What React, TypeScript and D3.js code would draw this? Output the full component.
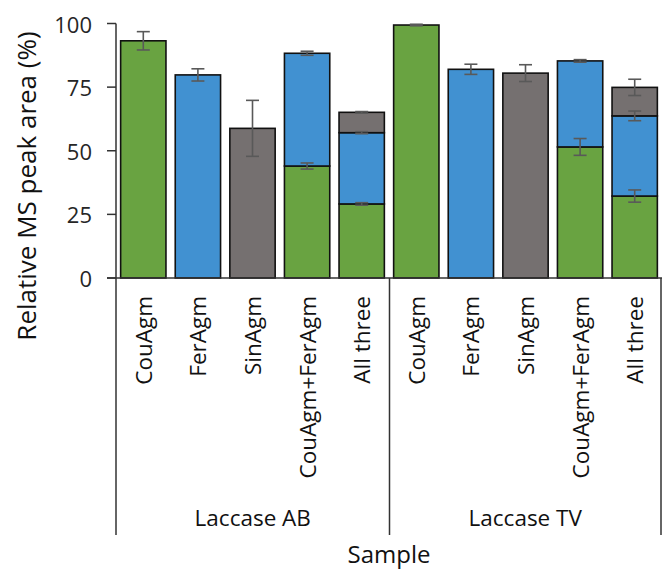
import React from "react";
import { scaleBand, scaleLinear, stack } from "d3";

// samples, two enzyme groups of five
const categories = ["CouAgm", "FerAgm", "SinAgm", "CouAgm+FerAgm", "All three", "CouAgm", "FerAgm", "SinAgm", "CouAgm+FerAgm", "All three"];
const groups = ["Laccase AB", "Laccase TV"];
const yTicks = [0, 25, 50, 75, 100];

// segment values (%) per sample
const couValues = [93.2, 0, 0, 44.0, 29.1, 99.4, 0, 0, 51.5, 32.2];
const ferValues = [0, 79.8, 0, 44.3, 28.0, 0, 82.0, 0, 33.8, 31.5];
const sinValues = [0, 0, 58.8, 0, 8.0, 0, 0, 80.5, 0, 11.2];

// error bar half-widths
const couErr = [3.6, 0, 0, 1.2, 0.5, 0.3, 0, 0, 3.3, 2.4];
const ferErr = [0, 2.4, 0, 0.8, 0.4, 0, 2.0, 0, 0.5, 1.9];
const sinErr = [0, 0, 11, 0, 0.3, 0, 0, 3.3, 0, 3.2];

const keys = ["cou", "fer", "sin"];
const colors = { cou: "#69a341", fer: "#4191d1", sin: "#757070" };
const errors = { cou: couErr, fer: ferErr, sin: sinErr };

const font = "'Open Sans', sans-serif";

export default function App() {
  const width = 662;
  const height = 571;
  const left = 116;
  const right = 662;
  const top = 23.5;
  const bottom = 278;

  const rows = categories.map((c, i) => ({ i, cou: couValues[i], fer: ferValues[i], sin: sinValues[i] }));
  const layers = stack().keys(keys)(rows);

  const x = scaleBand()
    .domain(categories.map((_, i) => String(i)))
    .range([left, right])
    .paddingInner(0.17)
    .paddingOuter(0.085);
  const y = scaleLinear().domain([0, 100]).range([bottom, top]);

  const groupEdges = [left, (left + right) / 2 + 0.5, right - 1];

  return (
    <svg width={width} height={height} style={{ position: "absolute", left: 0, top: 0, background: "#fff" }} fontFamily={font}>
      {/* bars */}
      {layers.map(layer => (
        <g key={layer.key}>
          {layer.map((d, i) =>
            d[1] - d[0] > 0 ? (
              <rect
                key={i}
                x={x(String(i))}
                y={y(d[1])}
                width={x.bandwidth()}
                height={y(d[0]) - y(d[1])}
                fill={colors[layer.key]}
                stroke="#111"
                strokeWidth={1.6}
              />
            ) : null
          )}
        </g>
      ))}
      {/* error bars */}
      {layers.map(layer => (
        <g key={"e" + layer.key} stroke="#595959" strokeWidth={1.6}>
          {layer.map((d, i) => {
            const e = errors[layer.key][i];
            if (d[1] - d[0] <= 0 || e <= 0) return null;
            const cx = x(String(i)) + x.bandwidth() / 2;
            return (
              <g key={i}>
                <line x1={cx} x2={cx} y1={y(d[1] + e)} y2={y(d[1] - e)} />
                <line x1={cx - 6.5} x2={cx + 6.5} y1={y(d[1] + e)} y2={y(d[1] + e)} />
                <line x1={cx - 6.5} x2={cx + 6.5} y1={y(d[1] - e)} y2={y(d[1] - e)} />
              </g>
            );
          })}
        </g>
      ))}
      {/* axes */}
      <g stroke="#333" strokeWidth={1.5}>
        <line x1={left} x2={left} y1={top} y2={535} />
        {yTicks.map(t => (
          <line key={t} x1={107} x2={left} y1={y(t)} y2={y(t)} />
        ))}
        <line x1={107} x2={right} y1={bottom} y2={bottom} />
        {groupEdges.slice(1).map((g, i) => (
          <line key={i} x1={g} x2={g} y1={bottom} y2={535} />
        ))}
      </g>
      {yTicks.map(t => (
        <text key={t} x={92} y={y(t)} textAnchor="end" dominantBaseline="central" fontSize={22} fill="#262626">
          {t}
        </text>
      ))}
      <text
        transform={`translate(26, 186) rotate(-90)`}
        textAnchor="middle"
        dominantBaseline="central"
        fontSize={26}
        fill="#111"
      >
        Relative MS peak area (%)
      </text>
      {/* category labels */}
      {categories.map((c, i) => (
        <text
          key={i}
          transform={`translate(${x(String(i)) + x.bandwidth() / 2}, 296) rotate(-90)`}
          textAnchor="end"
          dominantBaseline="central"
          fontSize={22.5}
          fill="#111"
        >
          {c}
        </text>
      ))}
      {groups.map((g, i) => (
        <text key={g} x={(groupEdges[i] + groupEdges[i + 1]) / 2} y={526} textAnchor="middle" fontSize={22.5} fill="#111">
          {g}
        </text>
      ))}
      <text x={(left + right) / 2} y={563} textAnchor="middle" fontSize={24} fill="#111">
        Sample
      </text>
    </svg>
  );
}
